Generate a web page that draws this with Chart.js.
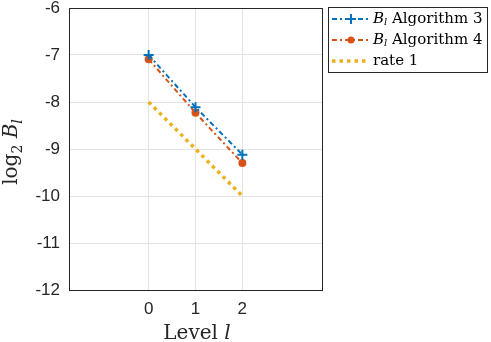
<!DOCTYPE html>
<html>
<head>
<meta charset="utf-8">
<script src="https://cdn.jsdelivr.net/npm/chart.js@4"></script>
<style>
  html, body { margin: 0; padding: 0; background: #fff; }
  #wrap { width: 491px; height: 342px; }
</style>
</head>
<body>
<div id="wrap"><canvas id="grafica" width="491" height="342"></canvas></div>
<script>
// Datos
const niveles = [0, 1, 2];
const algoritmo3 = [-7.0, -8.11, -9.12];
const algoritmo4 = [-7.09, -8.23, -9.30];
const tasa1 = [-8, -9, -10];
const ticksY = [-12, -11, -10, -9, -8, -7, -6];

// Colores estilo MATLAB
const azul = '#0072BD';
const naranja = '#D95319';
const amarillo = '#EDB120';

const puntos = (ys) => niveles.map((x, i) => ({ x: x, y: ys[i] }));

// Texto con partes de distinta fuente (cursiva, subindices)
function anchoPartes(ctx, partes) {
    let w = 0;
    for (const p of partes) {
        ctx.font = p.font;
        w += ctx.measureText(p.t).width;
    }
    return w;
}
function dibujarPartes(ctx, partes, x, y) {
    let cx = x;
    for (const p of partes) {
        ctx.font = p.font;
        ctx.fillText(p.t, cx, y + (p.dy || 0));
        cx += ctx.measureText(p.t).width;
    }
}

const serif = '"DejaVu Serif", serif';

const leyenda = [
    { color: azul, dash: [5, 3, 2, 3], ancho: 2, marca: 'cruz', partes: [
        { t: 'B', font: 'italic 15px ' + serif },
        { t: 'l', font: 'italic 10px ' + serif, dy: 3 },
        { t: ' Algorithm 3', font: '15px ' + serif }] },
    { color: naranja, dash: [5, 3, 2, 3], ancho: 2, marca: 'circulo', partes: [
        { t: 'B', font: 'italic 15px ' + serif },
        { t: 'l', font: 'italic 10px ' + serif, dy: 3 },
        { t: ' Algorithm 4', font: '15px ' + serif }] },
    { color: amarillo, dash: [3.5, 4], ancho: 3.5, marca: null, partes: [
        { t: 'rate 1', font: '15px ' + serif }] }
];

const extras = {
    id: 'extras',
    afterDraw(chart) {
        const ctx = chart.ctx;
        const a = chart.chartArea;
        ctx.save();
        // Marco de los ejes
        ctx.strokeStyle = '#262626';
        ctx.lineWidth = 1;
        ctx.strokeRect(Math.round(a.left) + 0.5, Math.round(a.top) + 0.5,
            Math.round(a.right - a.left), Math.round(a.bottom - a.top));

        // Titulo eje X
        ctx.fillStyle = '#262626';
        ctx.textBaseline = 'alphabetic';
        const px = [{ t: 'Level ', font: '20px ' + serif }, { t: 'l', font: 'italic 20px ' + serif }];
        dibujarPartes(ctx, px, 197 - anchoPartes(ctx, px) / 2, 339);

        // Titulo eje Y
        const py = [
            { t: 'log', font: '20px ' + serif },
            { t: '2', font: '14px ' + serif, dy: 5 },
            { t: ' ', font: '20px ' + serif },
            { t: 'B', font: 'italic 20px ' + serif },
            { t: 'l', font: 'italic 14px ' + serif, dy: 5 }];
        ctx.save();
        ctx.translate(17, 152);
        ctx.rotate(-Math.PI / 2);
        dibujarPartes(ctx, py, -anchoPartes(ctx, py) / 2, 0);
        ctx.restore();

        // Leyenda
        ctx.fillStyle = '#fff';
        ctx.fillRect(328.5, 7.5, 159, 65);
        ctx.strokeStyle = '#262626';
        ctx.strokeRect(328.5, 7.5, 159, 65);
        const filas = [19, 40, 61];
        leyenda.forEach((item, i) => {
            const y = filas[i];
            ctx.strokeStyle = item.color;
            ctx.lineWidth = item.ancho;
            ctx.setLineDash(item.dash);
            ctx.beginPath();
            ctx.moveTo(332, y);
            ctx.lineTo(369, y);
            ctx.stroke();
            ctx.setLineDash([]);
            if (item.marca === 'cruz') {
                ctx.lineWidth = 2;
                ctx.beginPath();
                ctx.moveTo(346, y); ctx.lineTo(356, y);
                ctx.moveTo(351, y - 5); ctx.lineTo(351, y + 5);
                ctx.stroke();
            } else if (item.marca === 'circulo') {
                ctx.fillStyle = item.color;
                ctx.beginPath();
                ctx.arc(351, y, 3.5, 0, Math.PI * 2);
                ctx.fill();
            }
            ctx.fillStyle = '#000';
            ctx.textBaseline = 'middle';
            dibujarPartes(ctx, item.partes, 373, y);
        });
        ctx.restore();
    }
};

new Chart(document.getElementById('grafica'), {
    type: 'scatter',
    data: {
        datasets: [
            {
                label: 'B_l Algorithm 3',
                data: puntos(algoritmo3),
                showLine: true,
                borderColor: azul,
                backgroundColor: azul,
                borderWidth: 2,
                borderDash: [5, 3, 2, 3],
                pointStyle: 'cross',
                pointRadius: 5,
                pointBorderWidth: 2,
                order: 1
            },
            {
                label: 'B_l Algorithm 4',
                data: puntos(algoritmo4),
                showLine: true,
                borderColor: naranja,
                backgroundColor: naranja,
                borderWidth: 2,
                borderDash: [5, 3, 2, 3],
                pointStyle: 'circle',
                pointRadius: 4,
                pointBorderWidth: 0,
                order: 2
            },
            {
                label: 'rate 1',
                data: puntos(tasa1),
                showLine: true,
                borderColor: amarillo,
                backgroundColor: amarillo,
                borderWidth: 3.5,
                borderDash: [3.5, 4],
                pointRadius: 0,
                order: 3
            }
        ]
    },
    options: {
        responsive: false,
        animation: false,
        devicePixelRatio: 1,
        layout: { padding: { top: 8, right: 169, left: 0, bottom: 0 } },
        plugins: {
            legend: { display: false },
            tooltip: { enabled: false }
        },
        scales: {
            x: {
                type: 'linear',
                min: -1.7,
                max: 3.7,
                afterBuildTicks: (s) => { s.ticks = niveles.map(v => ({ value: v })); },
                afterFit: (s) => { s.height = 52; s.paddingLeft = 0; s.paddingRight = 0; },
                grid: { color: '#e3e3e3', drawTicks: false },
                border: { display: false },
                ticks: {
                    padding: 9,
                    color: '#262626',
                    font: { family: '"Liberation Sans", Arial', size: 17 }
                }
            },
            y: {
                min: -12,
                max: -6,
                afterBuildTicks: (s) => { s.ticks = ticksY.map(v => ({ value: v })); },
                afterFit: (s) => { s.width = 69; s.paddingTop = 0; s.paddingBottom = 0; },
                grid: { color: '#e3e3e3', drawTicks: false },
                border: { display: false },
                ticks: {
                    padding: 9,
                    color: '#262626',
                    font: { family: '"Liberation Sans", Arial', size: 17 }
                }
            }
        }
    },
    plugins: [extras]
});
</script>
</body>
</html>
